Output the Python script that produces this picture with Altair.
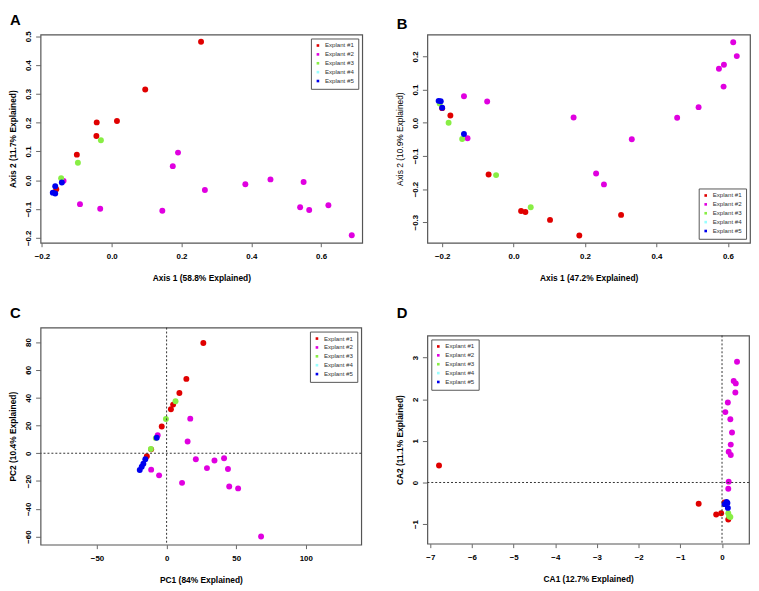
import altair as alt
import pandas as pd

FONT = "Liberation Sans"
groups = ["Explant #1", "Explant #2", "Explant #3", "Explant #4", "Explant #5"]
colors = ["#e00000", "#e000e0", "#88ee44", "#99ffff", "#0000ee"]

# ---- Panel A ----
a_x = {
    "Explant #1": [0.256, 0.096, 0.015, -0.043, -0.044, -0.100, -0.159],
    "Explant #2": [0.190, 0.175, 0.267, 0.383, 0.455, 0.550, 0.540, 0.566, 0.621, 0.688, 0.145, -0.033, -0.091, -0.138],
    "Explant #3": [-0.031, -0.097, -0.145],
    "Explant #5": [-0.162, -0.143, -0.169, -0.162],
}
a_y = {
    "Explant #1": [0.481, 0.315, 0.206, 0.201, 0.154, 0.089, -0.031],
    "Explant #2": [0.096, 0.049, -0.034, -0.014, 0.003, -0.006, -0.094, -0.103, -0.087, -0.191, -0.106, -0.099, -0.083, -0.002],
    "Explant #3": [0.139, 0.061, 0.007],
    "Explant #5": [-0.021, -0.008, -0.043, -0.046],
}
# ---- Panel B ----
b_x = {
    "Explant #1": [-0.177, -0.200, -0.070, 0.021, 0.033, 0.102, 0.184, 0.301],
    "Explant #2": [0.615, 0.625, 0.589, 0.575, 0.588, 0.518, 0.458, 0.331, 0.253, 0.231, 0.168, -0.074, -0.139, -0.129],
    "Explant #3": [-0.182, -0.144, -0.049, 0.048, -0.207],
    "Explant #5": [-0.210, -0.204, -0.200, -0.139],
}
b_y = {
    "Explant #1": [0.022, 0.044, -0.156, -0.266, -0.269, -0.293, -0.340, -0.278],
    "Explant #2": [0.243, 0.201, 0.175, 0.163, 0.109, 0.047, 0.015, -0.050, -0.186, -0.153, 0.016, 0.064, 0.080, -0.047],
    "Explant #3": [0.000, -0.049, -0.158, -0.255, 0.058],
    "Explant #5": [0.066, 0.065, 0.045, -0.034],
}
# ---- Panel C ----
c_x = {
    "Explant #1": [26.4, 14.2, 9.2, 4.7, 3.1, -3.5, -11.1, -14.2],
    "Explant #2": [17.0, 15.1, 21.0, 29.0, 34.4, 41.3, 44.1, 45.0, 51.4, 67.9, 11.1, -5.4, -11.1, -6.4],
    "Explant #3": [6.4, -0.5, -11.3, -7.8],
    "Explant #5": [-7.1, -15.3, -16.7, -17.9, -19.3],
}
c_y = {
    "Explant #1": [79.3, 53.5, 43.3, 35.0, 31.7, 19.2, 2.8, -2.1],
    "Explant #2": [24.9, 8.5, -4.3, -10.7, -5.2, -3.6, -11.4, -23.9, -25.3, -59.9, -21.3, -15.9, -11.8, 13.0],
    "Explant #3": [37.4, 24.6, 3.1, 10.9],
    "Explant #5": [11.1, -4.3, -7.6, -9.7, -12.1],
}
# ---- Panel D ----
d_x = {
    "Explant #1": [-6.79, -0.56, -0.14, -0.02, 0.15, 0.06],
    "Explant #2": [0.36, 0.28, 0.33, 0.32, 0.14, 0.08, 0.20, 0.24, 0.21, 0.16, 0.21, 0.16, 0.15],
    "Explant #3": [0.15, 0.17, 0.20],
    "Explant #5": [0.11, 0.13, 0.14, 0.06],
}
d_y = {
    "Explant #1": [0.41, -0.51, -0.77, -0.74, -0.89, -0.48],
    "Explant #2": [2.90, 2.44, 2.38, 2.16, 1.92, 1.69, 1.52, 1.20, 0.91, 0.74, 0.66, 0.02, -0.15],
    "Explant #3": [-0.74, -0.81, -0.83],
    "Explant #5": [-0.47, -0.49, -0.61, -0.52],
}

a_xticks = [-0.2, 0.0, 0.2, 0.4, 0.6]
a_yticks = [-0.2, -0.1, 0.0, 0.1, 0.2, 0.3, 0.4, 0.5]
b_xticks = [-0.2, 0.0, 0.2, 0.4, 0.6]
b_yticks = [-0.3, -0.2, -0.1, 0.0, 0.1, 0.2]
c_xticks = [-50, 0, 50, 100]
c_yticks = [-60, -40, -20, 0, 20, 40, 60, 80]
d_xticks = [-7, -6, -5, -4, -3, -2, -1, 0]
d_yticks = [-1, 0, 1, 2, 3]


def frame(xd, yd):
    rows = []
    for g in groups:
        for xv, yv in zip(xd.get(g, []), yd.get(g, [])):
            rows.append({"x": xv, "y": yv, "group": g})
    return pd.DataFrame(rows)


def panel(letter, xd, yd, xdom, ydom, xt, yt, xfmt, yfmt, xtitle, ytitle,
          legend_orient, w, h, title_offset, ytitle_weight="bold", cross=False):
    df = frame(xd, yd)
    X = alt.X("x:Q", scale=alt.Scale(domain=xdom, nice=False, zero=False),
              axis=alt.Axis(values=xt, format=xfmt, title=xtitle))
    Y = alt.Y("y:Q", scale=alt.Scale(domain=ydom, nice=False, zero=False),
              axis=alt.Axis(values=yt, format=yfmt, title=ytitle,
                            titleFontWeight=ytitle_weight))
    pts = alt.Chart(df).mark_circle(size=36, opacity=1, strokeWidth=0).encode(
        x=X, y=Y,
        color=alt.Color("group:N",
                        scale=alt.Scale(domain=groups, range=colors),
                        legend=alt.Legend(orient=legend_orient, offset=4, title=None,
                                          strokeColor="#555", fillColor="white",
                                          padding=4, symbolType="square", symbolSize=7,
                                          symbolStrokeWidth=0, labelFontSize=6.2,
                                          labelColor="#333", labelFont=FONT,
                                          rowPadding=2, labelOffset=4,
                                          labelExpr="datum.label + '   '")),
    )
    layers = [pts]
    if cross:
        vx = alt.Chart(pd.DataFrame({"x": [0]})).mark_rule(
            color="#333", strokeDash=[2, 2], strokeWidth=1).encode(x=X)
        hy = alt.Chart(pd.DataFrame({"y": [0]})).mark_rule(
            color="#333", strokeDash=[2, 2], strokeWidth=1).encode(y=Y)
        layers += [vx, hy]
    return alt.layer(*layers).properties(
        width=w, height=h,
        title=alt.TitleParams(letter, anchor="start", frame="group", dx=-31,
                              fontSize=15, fontWeight="bold", font=FONT,
                              color="black", offset=title_offset),
    )


pa = panel("A", a_x, a_y, [-0.204, 0.718], [-0.217, 0.506], a_xticks, a_yticks, ".1f", ".1f",
           "Axis 1 (58.8% Explained)", "Axis 2 (11.7% Explained)", "top-right", 326, 211, 3)
pb = panel("B", b_x, b_y, [-0.2415, 0.662], [-0.362, 0.266], b_xticks, b_yticks, ".1f", ".1f",
           "Axis 1 (47.2% Explained)", "Axis 2 (10.9% Explained)", "bottom-right", 327, 211, 3,
           ytitle_weight="normal")
pc = panel("C", c_x, c_y, [-90.6, 139.9], [-65.8, 90.4], c_xticks, c_yticks, "d", "d",
           "PC1 (84% Explained)", "PC2 (10.4% Explained)", "top-right", 325, 220, 6, cross=True)
pd_ = panel("D", d_x, d_y, [-7.07, 0.648], [-1.47, 3.53], d_xticks, d_yticks, "d", "d",
            "CA1 (12.7% Explained)", "CA2 (11.1% Explained)", "top-left", 326, 211, 14, cross=True)

spacer = alt.Chart(pd.DataFrame({"a": [0]})).mark_point(opacity=0).encode(
    x=alt.value(0), y=alt.value(0)
).properties(width=326, height=8, view=alt.ViewBackground(stroke=None))

d_col = alt.vconcat(spacer, pd_, spacing=0, bounds="flush").resolve_scale(
    color="independent").resolve_legend(color="independent")

row1 = alt.hconcat(pa, pb, spacing=32).resolve_scale(color="independent").resolve_legend(color="independent")
row2 = alt.hconcat(pc, d_col, spacing=32).resolve_scale(color="independent").resolve_legend(color="independent")

chart = alt.vconcat(row1, row2, spacing=22).resolve_scale(
    color="independent").resolve_legend(color="independent").properties(
    padding=0, background="white"
).configure_view(stroke="#555", strokeWidth=1.2).configure_axis(
    grid=False, domain=False, labelFont=FONT, titleFont=FONT, labelFontSize=8,
    labelFontWeight="bold", titleFontSize=8.5, titleFontWeight="bold",
    tickColor="#666", labelColor="black", titleColor="black", labelFlush=False,
).configure_axisX(
    tickSize=4, labelPadding=6, titlePadding=13,
).configure_axisY(
    tickSize=5, labelPadding=3, titlePadding=7, labelAngle=270,
    labelAlign="center", labelBaseline="bottom",
)

chart.save("out.html", embed_options={"renderer": "svg", "actions": False})
